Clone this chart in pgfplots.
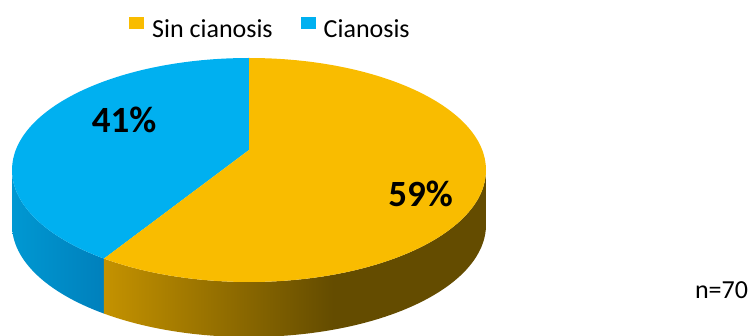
\documentclass[border=0pt]{standalone}
\usepackage{pgfplots}
\pgfplotsset{compat=1.18}
\usepackage{fontspec}
\setmainfont{Carlito}
\definecolor{yel}{RGB}{249,188,0}
\definecolor{blu}{RGB}{0,176,240}
\definecolor{ysl}{RGB}{196,146,0}
\definecolor{ysd}{RGB}{100,76,0}
\definecolor{bsl}{RGB}{0,152,210}
\definecolor{bsd}{RGB}{0,128,188}
\pgfdeclarehorizontalshading{yside}{100bp}{color(0bp)=(ysl); color(25bp)=(ysl); color(55bp)=(ysd); color(100bp)=(ysd)}
\pgfdeclarehorizontalshading{bside}{100bp}{color(0bp)=(bsl); color(25bp)=(bsl); color(75bp)=(bsd); color(100bp)=(bsd)}
% data (percent)
\def\pSin{59}
\def\pCia{41}
\begin{document}
\begin{tikzpicture}
% perspective: apex offset relative to rim ellipse
\pgfmathsetmacro\pa{18/112}
\pgfmathsetmacro\th{90+3.6*\pCia}
\pgfmathsetmacro\up{cos(\th)*sqrt(1-\pa*\pa)/(1+\pa*sin(\th))}
\pgfmathsetmacro\vp{(sin(\th)+\pa)/(1+\pa*sin(\th))}
\pgfmathsetmacro\angr{atan2(\vp,\up)}
\pgfmathsetmacro\angB{\angr<0 ? \angr+360 : \angr}
\begin{axis}[hide axis, scale only axis, width=755pt, height=335pt,
  xmin=0, xmax=755, ymin=0, ymax=335, clip=true,
  legend columns=2,
  legend image code/.code={\fill[#1] (0pt,0pt) rectangle (15pt,12pt);},
  legend style={at={(axis cs:129,318)}, anchor=north west, draw=none, fill=none,
    inner sep=0pt, font=\fontsize{26}{31}\selectfont,
    /tikz/every odd column/.append style={column sep=6pt},
    /tikz/every even column/.append style={column sep=26pt}},
  ]
\addlegendimage{fill=yel, draw=none}
\addlegendentry{Sin cianosis}
\addlegendimage{fill=blu, draw=none}
\addlegendentry{Cianosis}
% sides
\shade[shading=bside] (axis cs:12,165) arc[start angle=180, end angle=\angB, x radius=237pt, y radius=112pt]
  -- ++(0pt,-55pt) arc[start angle=\angB, end angle=180, x radius=237pt, y radius=112pt] -- cycle;
\shade[shading=yside] (axis cs:486,165) arc[start angle=360, end angle=\angB, x radius=237pt, y radius=112pt]
  -- ++(0pt,-55pt) arc[start angle=\angB, end angle=360, x radius=237pt, y radius=112pt] -- cycle;
% top faces
\fill[blu] (axis cs:249,185) -- (axis cs:249,277) arc[start angle=90, end angle=\angB, x radius=237pt, y radius=112pt] -- cycle;
\fill[yel] (axis cs:249,185) -- (axis cs:249,277) arc[start angle=90, end angle=\angB-360, x radius=237pt, y radius=112pt] -- cycle;
% labels
\node[font=\fontsize{37}{40}\selectfont\bfseries] at (axis cs:124,215) {\pCia\%};
\node[font=\fontsize{37}{40}\selectfont\bfseries] at (axis cs:420.5,141.5) {\pSin\%};
\node[font=\fontsize{26}{30}\selectfont] at (axis cs:721.5,44.5) {n=70};
\end{axis}
\pgfresetboundingbox
\path (0,0) rectangle (755pt,335pt);
\end{tikzpicture}
\end{document}
